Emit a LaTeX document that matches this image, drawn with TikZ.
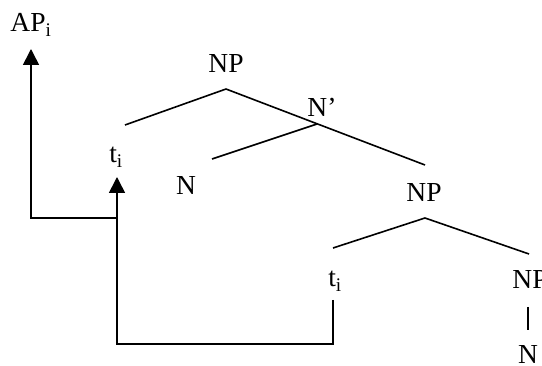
\documentclass[tikz,border=0pt]{standalone}
\usepackage{fontspec}
\setmainfont{Liberation Serif}
\usetikzlibrary{arrows.meta}
\tikzset{
  cat/.style={font=\fontsize{27.5}{32}\selectfont,inner sep=0pt,anchor=base},
  rama/.style={line width=1.6pt},
  mov/.style={line width=1.6pt,-{Triangle[length=16pt,width=16pt]}}
}
\begin{document}
\begin{tikzpicture}[x=1pt,y=-1pt]
\useasboundingbox (0,0) rectangle (542,366);
\clip (0,0) rectangle (542,366);
\node[cat] (ap) at (31,32) {AP\textsubscript{i}};
\node[cat] (np1) at (226,73) {NP};
\node[cat] (nbar) at (322,117) {N'};
\node[cat] (t1) at (116,163) {t\textsubscript{i}};
\node[cat] (n1) at (186,195) {N};
\node[cat] (np2) at (424,202) {NP};
\node[cat] (t2) at (335,287) {t\textsubscript{i}};
\node[cat] (np3) at (530,289) {NP};
\node[cat] (n2) at (528,364) {N};
\coordinate (np1j) at (226,89);
\coordinate (t1e) at (125,125);
\coordinate (nbarj) at (317,124);
\coordinate (n1e) at (212,159);
\coordinate (np2e) at (425,165);
\coordinate (np2j) at (425,218);
\coordinate (t2e) at (333,248);
\coordinate (np3e) at (529,254);
\coordinate (np3j) at (528,307);
\coordinate (n2e) at (528,330);
\draw[rama] (np1j) -- (t1e);
\draw[rama] (np1j) -- (np2e);
\draw[rama] (nbarj) -- (n1e);
\draw[rama] (np2j) -- (t2e);
\draw[rama] (np2j) -- (np3e);
\draw[rama] (np3j) -- (n2e);
\coordinate (t2f) at (333,300);
\coordinate (c1) at (117,344);
\coordinate (t1f) at (117,177);
\coordinate (c2) at (117,218);
\coordinate (apf) at (31,49);
\draw[mov] (t2f) |- (c1) -- (t1f);
\draw[mov] (c2) -| (apf);
\end{tikzpicture}
\end{document}
